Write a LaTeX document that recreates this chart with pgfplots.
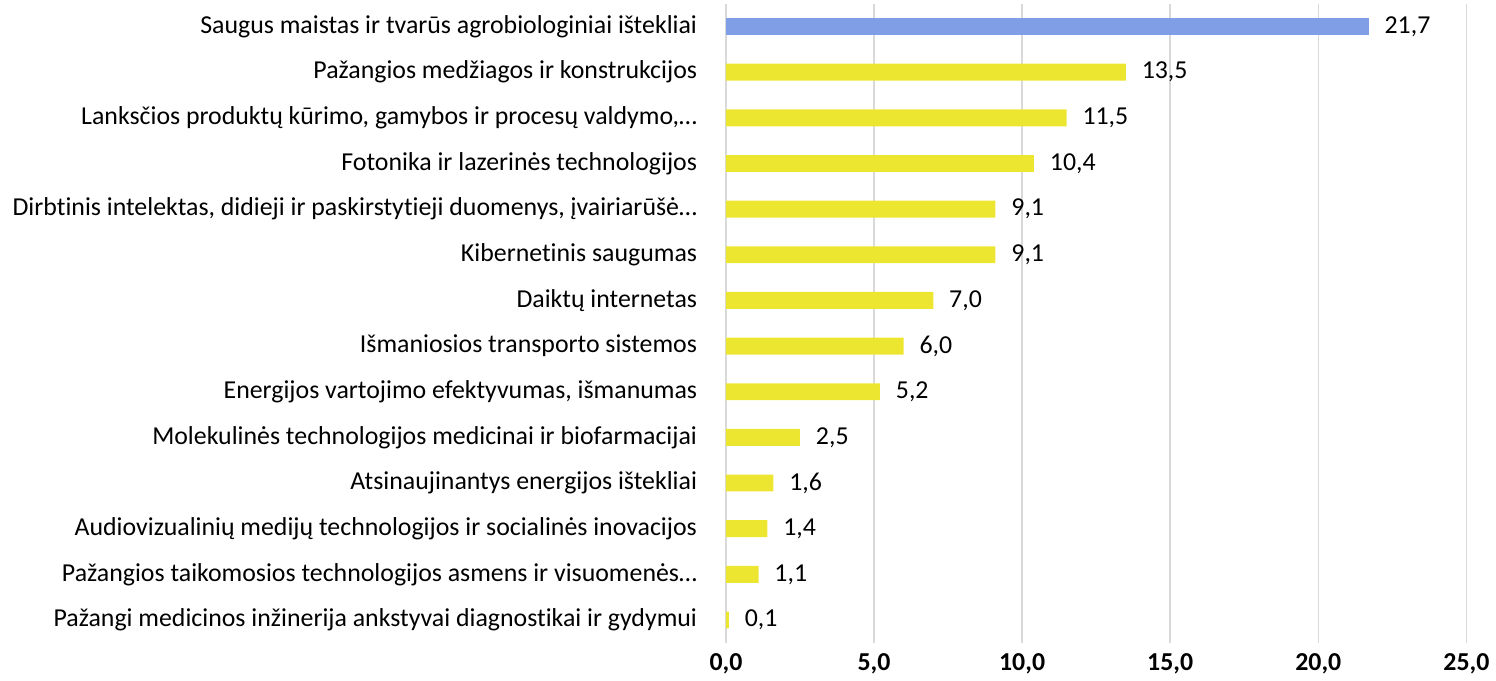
\documentclass[border=0pt]{standalone}
\usepackage{fontspec}
\setmainfont{Carlito}[Ligatures=NoCommon]
\usepackage{pgfplots}
\pgfplotsset{compat=1.18}
\definecolor{barblue}{RGB}{127,158,230}
\definecolor{baryellow}{RGB}{237,230,48}
\definecolor{gridgray}{RGB}{217,217,217}
\begin{document}
\begin{tikzpicture}
\begin{axis}[
    scale only axis,
    width=372.5pt, height=321.5pt,
    xbar, bar shift=0pt, bar width=8.5pt,
    xmin=0, xmax=25,
    xtick={0,5,10,15,20,25},
    ymin=-0.5, ymax=13.5,
    y dir=reverse,
    ytick={0,...,13},
    yticklabels={
      {Saugus maistas ir tvarūs agrobiologiniai ištekliai},
      {Pažangios medžiagos ir konstrukcijos},
      {Lanksčios produktų kūrimo, gamybos ir procesų valdymo,…},
      {Fotonika ir lazerinės technologijos},
      {Dirbtinis intelektas, didieji ir paskirstytieji duomenys, įvairiarūšė…},
      {Kibernetinis saugumas},
      {Daiktų internetas},
      {Išmaniosios transporto sistemos},
      {Energijos vartojimo efektyvumas, išmanumas},
      {Molekulinės technologijos medicinai ir biofarmacijai},
      {Atsinaujinantys energijos ištekliai},
      {Audiovizualinių medijų technologijos ir socialinės inovacijos},
      {Pažangios taikomosios technologijos asmens ir visuomenės…},
      {Pažangi medicinos inžinerija ankstyvai diagnostikai ir gydymui}},
    axis line style={draw=none},
    major tick length=0pt,
    xmajorgrids=true,
    grid style={gridgray, line width=0.75pt},
    /pgf/number format/.cd, fixed, fixed zerofill, precision=1, use comma, assume math mode=true,
    /pgfplots/.cd,
    tick label style={font=\fontsize{13}{15}\selectfont},
    xticklabel style={font=\fontsize{13}{15}\selectfont\bfseries, yshift=-2pt},
    yticklabel style={xshift=-11pt},
    nodes near coords,
    nodes near coords style={font=\fontsize{13}{15}\selectfont, anchor=west, xshift=4.5pt, text=black},
]
\addplot[fill=barblue, draw=none] coordinates {(21.7,0)};
\addplot[fill=baryellow, draw=none] coordinates {
  (13.5,1)(11.5,2)(10.4,3)(9.1,4)(9.1,5)(7.0,6)(6.0,7)
  (5.2,8)(2.5,9)(1.6,10)(1.4,11)(1.1,12)(0.1,13)};
\end{axis}
\path ([xshift=-3pt]current bounding box.west);
\path ([yshift=1.5pt]current bounding box.north);
\end{tikzpicture}
\end{document}
